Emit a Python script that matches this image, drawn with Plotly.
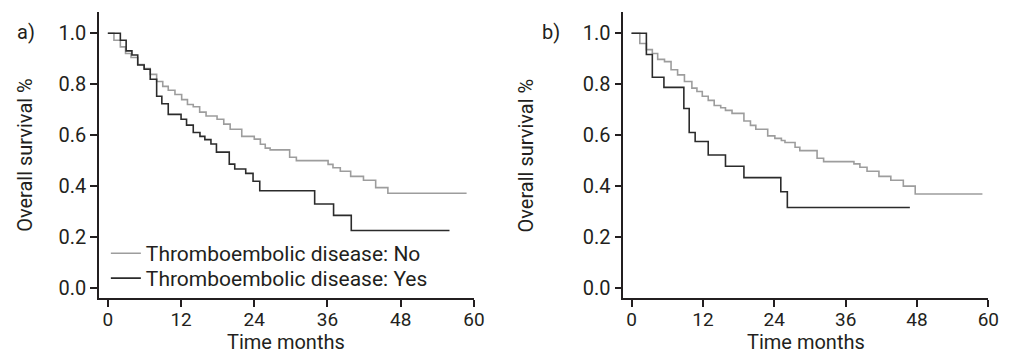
import plotly.graph_objects as go

# Panel a
a_no_t = [0, 1.0, 2.05, 2.9, 3.8, 4.9, 5.95, 6.95, 8.0, 9.0, 9.9, 11.0, 12.1, 13.05, 14.0, 15.05, 16.1,
          17.9, 19.0, 20.05, 21.95, 24.0, 25.0, 25.8, 26.6, 29.8, 30.9, 36.1, 36.9, 38.1, 39.8, 41.9,
          43.9, 45.9, 58.8]
a_no_s = [1.0, 0.973, 0.947, 0.921, 0.905, 0.878, 0.862, 0.839, 0.811, 0.792, 0.777, 0.760, 0.740,
          0.721, 0.712, 0.691, 0.676, 0.663, 0.644, 0.624, 0.596, 0.585, 0.565, 0.550, 0.543, 0.514,
          0.501, 0.486, 0.473, 0.459, 0.439, 0.424, 0.395, 0.373, 0.373]
a_yes_t = [0, 2.05, 3.0, 3.95, 4.9, 5.95, 6.95, 8.0, 8.85, 9.9, 12.0, 12.9, 14.0, 15.1, 15.9, 16.9,
           17.8, 19.9, 20.8, 22.6, 23.8, 24.9, 33.9, 37.0, 39.9, 56.0]
a_yes_s = [1.0, 0.973, 0.931, 0.915, 0.876, 0.859, 0.820, 0.753, 0.724, 0.682, 0.663, 0.640, 0.611,
           0.596, 0.583, 0.566, 0.534, 0.487, 0.468, 0.451, 0.420, 0.383, 0.331, 0.286, 0.227, 0.227]

# Panel b
b_no_t = [0, 1.4, 2.5, 3.5, 4.4, 5.55, 6.65, 7.75, 8.9, 10.15, 11.0, 11.9, 12.9, 13.9, 15.0, 15.8,
          16.9, 18.9, 20.0, 20.9, 22.9, 24.1, 25.2, 25.8, 27.5, 28.3, 31.2, 32.3, 37.4, 38.4, 39.6,
          41.6, 43.6, 45.7, 47.7, 59.0]
b_no_s = [1.0, 0.96, 0.936, 0.921, 0.898, 0.889, 0.857, 0.837, 0.811, 0.785, 0.772, 0.753, 0.737,
          0.717, 0.708, 0.698, 0.686, 0.656, 0.639, 0.624, 0.598, 0.588, 0.580, 0.572, 0.553, 0.540,
          0.510, 0.497, 0.488, 0.475, 0.459, 0.439, 0.424, 0.401, 0.370, 0.370]
b_yes_t = [0, 2.5, 3.5, 5.45, 8.8, 9.7, 10.7, 12.9, 15.8, 18.9, 25.1, 26.2, 46.8]
b_yes_s = [1.0, 0.917, 0.828, 0.788, 0.705, 0.611, 0.576, 0.523, 0.479, 0.434, 0.379, 0.317, 0.317]

x_ticks = [0, 12, 24, 36, 48, 60]
y_ticks = [0.0, 0.2, 0.4, 0.6, 0.8, 1.0]
y_tick_text = ["0.0", "0.2", "0.4", "0.6", "0.8", "1.0"]
name_no = "Thromboembolic disease: No"
name_yes = "Thromboembolic disease: Yes"
x_title = "Time months"
y_title = "Overall survival %"

GRAY = "#9d9d9d"
DARK = "#2b2b2b"
TXT = "#231f20"
FONT = "Roboto"

fig = go.Figure()
fig.add_trace(go.Scatter(x=a_no_t, y=a_no_s, mode="lines", line=dict(color=GRAY, width=1.6, shape="hv"),
                         name=name_no, xaxis="x", yaxis="y", legend="legend"))
fig.add_trace(go.Scatter(x=a_yes_t, y=a_yes_s, mode="lines", line=dict(color=DARK, width=1.6, shape="hv"),
                         name=name_yes, xaxis="x", yaxis="y", legend="legend2"))
fig.add_trace(go.Scatter(x=b_no_t, y=b_no_s, mode="lines", line=dict(color=GRAY, width=1.6, shape="hv"),
                         name=name_no, showlegend=False, xaxis="x2", yaxis="y2"))
fig.add_trace(go.Scatter(x=b_yes_t, y=b_yes_s, mode="lines", line=dict(color=DARK, width=1.6, shape="hv"),
                         name=name_yes, showlegend=False, xaxis="x2", yaxis="y2"))

W, H = 1034, 357
ybot, ytop = 1 - 300 / H, 1 - 11.7 / H

common_x = dict(tickmode="array", tickvals=x_ticks, ticks="outside", ticklen=7, tickwidth=1.5,
                tickcolor=TXT, showline=True, linecolor=TXT, linewidth=1.5, showgrid=False,
                zeroline=False, ticklabelstandoff=-4, tickfont=dict(family=FONT, size=19, color=TXT))
common_y = dict(tickmode="array", tickvals=y_ticks, ticktext=y_tick_text, ticks="outside", ticklen=7,
                tickwidth=1.5, tickcolor=TXT, showline=True, linecolor=TXT, linewidth=1.5,
                showgrid=False, zeroline=False, range=[-0.039, 1.085],
                tickfont=dict(family=FONT, size=20, color=TXT))

leg_common = dict(xanchor="left", yanchor="middle", bgcolor="rgba(0,0,0,0)",
                  font=dict(family=FONT, size=21, color=TXT), itemwidth=30)

def ann(text, x, y, size=20, angle=0, xanchor="center", yanchor="middle"):
    return dict(text=text, x=x / W, y=1 - y / H, xref="paper", yref="paper", xanchor=xanchor,
                yanchor=yanchor, showarrow=False, textangle=angle, borderpad=0,
                font=dict(family=FONT, size=size, color=TXT))

fig.update_layout(
    width=W, height=H,
    margin=dict(l=0, r=0, t=0, b=0),
    paper_bgcolor="white", plot_bgcolor="white",
    font=dict(family=FONT, color=TXT),
    xaxis=dict(domain=[100 / W, 479 / W], range=[-1.46, 60], anchor="y", **common_x),
    yaxis=dict(domain=[ybot, ytop], anchor="x", **common_y),
    xaxis2=dict(domain=[630 / W, 999 / W], range=[-1.38, 60], anchor="y2", **common_x),
    yaxis2=dict(domain=[ybot, ytop], anchor="x2", **common_y),
    legend=dict(x=107 / W, y=1 - 255 / H, **leg_common),
    legend2=dict(x=107 / W, y=1 - 280 / H, **leg_common),
    showlegend=True,
    annotations=[
        ann("a)", 16, 32, size=20, xanchor="left"),
        ann("b)", 547, 32, size=20, xanchor="left"),
        ann(x_title, 289.5, 357, size=20, yanchor="bottom"),
        ann(x_title, 814.5, 357, size=20, yanchor="bottom"),
        ann(y_title, 25, 156, angle=-90),
        ann(y_title, 532, 156, angle=-90),
    ],
)

fig.write_html("out.html", config={"displayModeBar": False},
               post_script="document.body.style.margin='0px';")
